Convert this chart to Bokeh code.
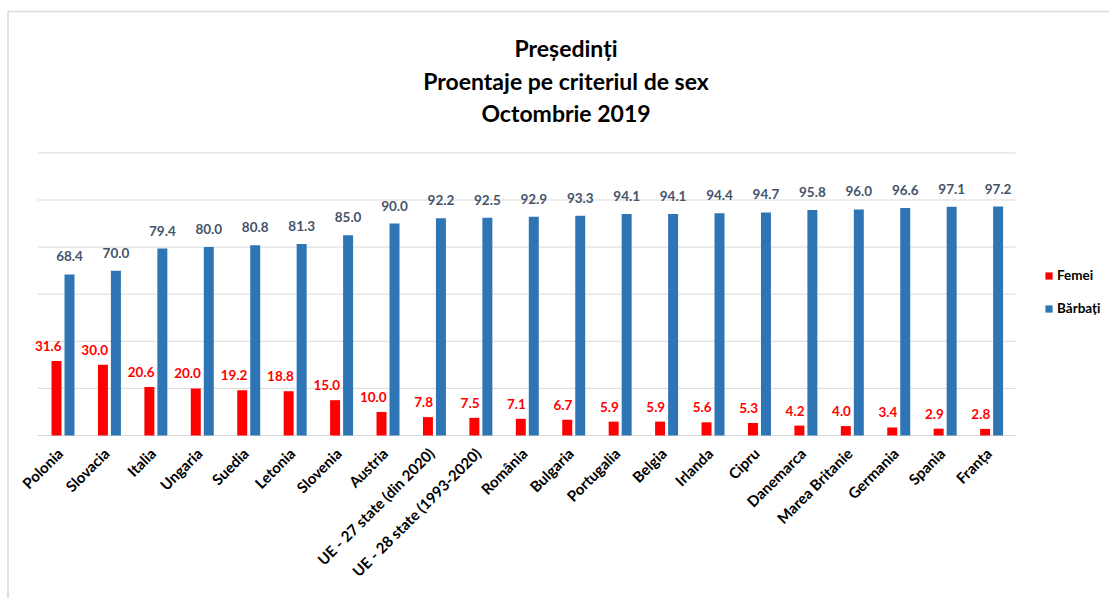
import math
from bokeh.plotting import figure
from bokeh.models import ColumnDataSource, Range1d, Legend, LegendItem
from bokeh.core.properties import value
from bokeh.embed import file_html
from bokeh.resources import INLINE

countries = ["Polonia", "Slovacia", "Italia", "Ungaria", "Suedia", "Letonia", "Slovenia",
             "Austria", "UE - 27 state (din 2020)", "UE - 28 state (1993-2020)", "România",
             "Bulgaria", "Portugalia", "Belgia", "Irlanda", "Cipru", "Danemarca",
             "Marea Britanie", "Germania", "Spania", "Franța"]
femei = [31.6, 30.0, 20.6, 20.0, 19.2, 18.8, 15.0, 10.0, 7.8, 7.5, 7.1, 6.7, 5.9, 5.9,
         5.6, 5.3, 4.2, 4.0, 3.4, 2.9, 2.8]
barbati = [68.4, 70.0, 79.4, 80.0, 80.8, 81.3, 85.0, 90.0, 92.2, 92.5, 92.9, 93.3, 94.1,
           94.1, 94.4, 94.7, 95.8, 96.0, 96.6, 97.1, 97.2]
y_ticks = [0, 20, 40, 60, 80, 100, 120]
title_lines = ["Președinți", "Proentaje pe criteriul de sex", "Octombrie 2019"]
series_names = ["Femei", "Bărbați"]

# ---- layout (pixels of the 1109x598 canvas) ----
W, H = 1109, 598
CAT_PX = 46.43          # width of one category
FIRST_CX = 62.5         # pixel x of first category centre
ZERO_PY = 435.0         # pixel y of value 0
UNIT_PY = 2.355         # pixels per value unit

def X(px):
    return (px - FIRST_CX) / CAT_PX + 0.5

def Y(py):
    return (ZERO_PY - py) / UNIT_PY

FONT = "Lato"
RED = "#FF0000"
BLUE = "#2E75B6"
GRID = "#D9D9D9"

n = len(countries)
xc = [i + 0.5 for i in range(n)]
src = ColumnDataSource(dict(
    xc=xc, xr=[x - 0.14 for x in xc], xb=[x + 0.14 for x in xc], xrl=[x - 0.03 for x in xc],
    c=countries, f=femei, b=barbati, zero=[0] * n,
    fl=[f"{v:.1f}" for v in femei], bl=[f"{v:.1f}" for v in barbati],
))

p = figure(width=W, height=H, x_range=Range1d(X(0), X(W)), y_range=Range1d(Y(H), Y(0)),
           output_backend="svg", toolbar_location=None,
           min_border=0, min_border_left=0, min_border_right=0,
           min_border_top=0, min_border_bottom=0)
p.outline_line_color = None
p.xaxis.visible = False
p.yaxis.visible = False
p.xgrid.visible = False
p.ygrid.visible = False

# chart border (Excel chart area)
p.segment(x0=[X(7.5), X(7.5)], y0=[Y(11), Y(11)], x1=[X(W), X(7.5)], y1=[Y(11), Y(H)],
          line_color=GRID, line_width=1.5)

# gridlines
p.segment(x0=X(37), x1=X(1015), y0=y_ticks, y1=y_ticks, line_color=GRID, line_width=1)

rf = p.vbar(x="xr", top="f", width=0.215, source=src, fill_color=RED, line_color=None)
rb = p.vbar(x="xb", top="b", width=0.215, source=src, fill_color=BLUE, line_color=None)

p.text(x="xrl", y="f", text="fl", source=src, text_align="right", text_baseline="middle",
       y_offset=-15, text_font=value(FONT), text_font_style="bold",
       text_font_size="13.5px", text_color=RED)
p.text(x="xb", y="b", text="bl", source=src, text_align="center", text_baseline="middle",
       y_offset=-18, text_font=value(FONT), text_font_style="bold",
       text_font_size="13.5px", text_color="#44546A")

# category labels (rotated 45 degrees)
p.text(x="xc", y="zero", text="c", source=src, angle=math.pi / 4,
       text_align="right", text_baseline="middle", x_offset=-3, y_offset=15,
       text_font=value(FONT), text_font_style="bold", text_font_size="15px",
       text_color="#000000")

# title
p.text(x=[X(565.5)] * 3, y=[Y(47), Y(80), Y(112)], text=title_lines,
       text_align="center", text_baseline="middle", text_font=value(FONT),
       text_font_style="bold", text_font_size="23px", text_color="#000000")

legend = Legend(items=[LegendItem(label=series_names[0], renderers=[rf]),
                       LegendItem(label=series_names[1], renderers=[rb])],
                location=(1044, H - 318), padding=0, margin=0, spacing=13,
                glyph_width=9, glyph_height=9, label_height=20, label_standoff=4,
                label_text_font=FONT, label_text_font_style="bold",
                label_text_font_size="13.5px", label_text_color="#000000",
                border_line_color=None, background_fill_alpha=0)
p.add_layout(legend)

open("out.html", "w").write(file_html(p, INLINE))
